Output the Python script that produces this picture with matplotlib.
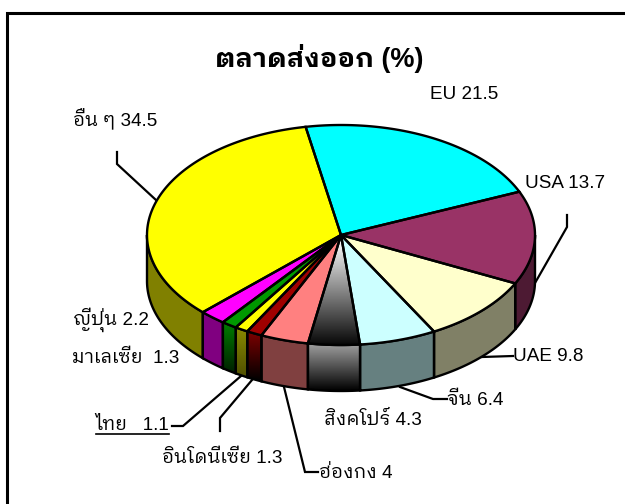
"""Thai export-market pie, drawn as a tilted 3D disc from cumulative shares."""
import matplotlib

matplotlib.use("Agg")

import matplotlib.pyplot as plt  # noqa: E402
import numpy as np  # noqa: E402
from matplotlib.patches import Polygon  # noqa: E402

markets = ["EU", "USA", "UAE", "จีน", "สิงคโปร์", "ฮ่องกง", "อินโดนีเซีย", "ไทย", "มาเลเซีย", "ญี่ปุ่น", "อื่น ๆ"]
shares = [21.5, 13.7, 9.8, 6.4, 4.3, 4, 1.3, 1.1, 1.3, 2.2, 34.5]
share_text = ["21.5", "13.7", "9.8", "6.4", "4.3", "4", "1.3", "1.1", "1.3", "2.2", "34.5"]
gaps = [" ", " ", " ", " ", " ", " ", " ", "   ", "  ", " ", " "]
top_colors = ["#00FFFF", "#993366", "#FFFFCC", "#CCFFFF", "#888888", "#FF8080",
              "#A00000", "#FFFF00", "#009900", "#FF00FF", "#FFFF00"]
wall_colors = ["#008080", "#4D1A33", "#808066", "#668080", "#888888", "#804040",
               "#800000", "#808000", "#008000", "#800080", "#808000"]
gradient_top = {"สิงคโปร์": ("#FFFFFF", "#080808")}
gradient_wall = {"สิงคโปร์": ("#A0A0A0", "#000000"), "อินโดนีเซีย": ("#800000", "#000000"),
                 "ไทย": ("#8A8A00", "#505000"), "มาเลเซีย": ("#008000", "#002000")}

label_xy = [(430, 99), (525, 188), (513, 361), (447, 405), (324, 425), (319, 478),
            (162, 463), (95, 430), (72, 363), (73, 325), (73, 126)]

CX, CY, RX, RY, DEPTH = 341, 235, 194, 110, 46
START = 100.5
LINE = "black"
FONT = ["Liberation Sans", "IBM Plex Sans Thai Looped"]


def rim(t):
    t = np.radians(t)
    return CX + RX * np.cos(t), CY - RY * np.sin(t)


def shade(ax, patch, colors, y0, y1):
    c0 = np.array(matplotlib.colors.to_rgb(colors[0]))
    c1 = np.array(matplotlib.colors.to_rgb(colors[1]))
    ramp = np.linspace(0, 1, 64)[:, None, None] * (c1 - c0)[None, None, :] + c0[None, None, :]
    x0, _ = patch.get_xy().min(axis=0)
    x1, _ = patch.get_xy().max(axis=0)
    im = ax.imshow(ramp, extent=(x0, x1, y1, y0), aspect="auto", zorder=patch.get_zorder(),
                   interpolation="bilinear")
    im.set_clip_path(patch)


fig = plt.figure(figsize=(6.25, 5.04), dpi=100)
ax = fig.add_axes([0, 0, 1, 1])
ax.axis("off")

# frame only shows on the left and top, it runs off the picture on the other sides
ax.plot([6.5, 6.5, 625], [504, 12.5, 12.5], color=LINE, lw=2.2, solid_joinstyle="miter", zorder=1)

edges = START - np.concatenate(([0], np.cumsum(shares))) * 3.6 / (sum(shares) / 100)

for i, name in enumerate(markets):
    # side wall only exists on the front half of the disc
    lo, hi = max(edges[i + 1], -180), min(edges[i], 0)
    if hi > lo:
        ts = np.linspace(hi, lo, 60)
        x, y = rim(ts)
        pts = np.r_[np.c_[x, y], np.c_[x[::-1], y[::-1] + DEPTH]]
        wall = Polygon(pts, closed=True, fc=wall_colors[i], ec="none", zorder=2)
        ax.add_patch(wall)
        if name in gradient_wall:
            shade(ax, wall, gradient_wall[name], y.min(), y.max() + DEPTH)
        ax.add_patch(Polygon(pts, closed=True, fill=False, ec=LINE, lw=1.7, zorder=3))

for i, name in enumerate(markets):
    ts = np.linspace(edges[i], edges[i + 1], 120)
    x, y = rim(ts)
    pts = np.r_[[[CX, CY]], np.c_[x, y]]
    face = Polygon(pts, closed=True, fc=top_colors[i], ec="none", zorder=4)
    ax.add_patch(face)
    if name in gradient_top:
        shade(ax, face, gradient_top[name], CY + 4, y.max())
    ax.add_patch(Polygon(pts, closed=True, fill=False, ec=LINE, lw=1.7, zorder=5))

leaders = {
    "USA": ([567, 567, 535], [215, 227, 283]),
    "UAE": ([482, 513], [357, 356]),
    "จีน": ([400, 433, 447], [387, 399, 399]),
    "ฮ่องกง": ([284, 305, 318], [387, 472, 472]),
    "อินโดนีเซีย": ([252, 220, 220], [380, 418, 431]),
    "ไทย": ([241, 183, 172], [376, 426, 426]),
    "อื่น ๆ": ([117, 117, 156], [152, 164, 200]),
}
for name, path in leaders.items():
    ax.plot(path[0], path[1], color=LINE, lw=1.6, solid_joinstyle="miter", zorder=1)

for i, name in enumerate(markets):
    ax.text(label_xy[i][0], label_xy[i][1], f"{name}{gaps[i]}{share_text[i]}", family=FONT,
            fontsize=13.6, ha="left", va="baseline", color="black", zorder=6)

ax.plot([96, 169], [433.5, 433.5], color=LINE, lw=1.2, zorder=6)
ax.text(319, 67, "ตลาดส่งออก (%)", family=FONT, fontsize=19.5, fontweight="bold",
        ha="center", va="baseline", zorder=6)

# set limits last, imshow above would otherwise reset them
ax.set_xlim(0, 625)
ax.set_ylim(504, 0)

fig.savefig("out.png", dpi=100)
